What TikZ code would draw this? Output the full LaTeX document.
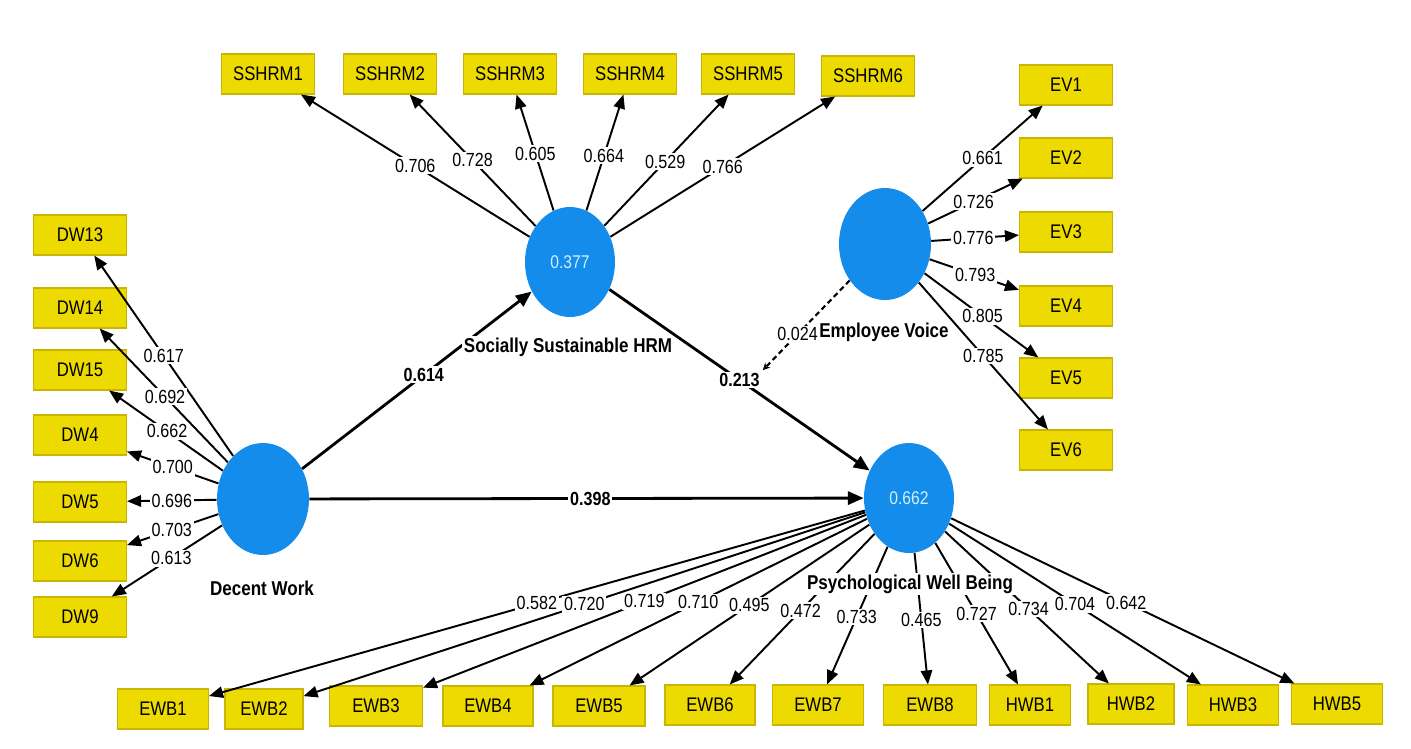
\documentclass[tikz,border=0pt]{standalone}
\usepackage{fontspec}
\setmainfont{Liberation Sans}[FakeStretch=0.85]
\usetikzlibrary{arrows.meta,shapes.geometric}
\definecolor{boxy}{RGB}{236,218,0}
\definecolor{boxb}{RGB}{200,182,0}
\definecolor{lvblue}{RGB}{20,140,236}
\definecolor{lvtxt}{RGB}{210,240,250}
\begin{document}
\begin{tikzpicture}[x=0.02cm,y=-0.02cm,
  ind/.style={draw=boxb,fill=boxy,line width=0.6pt,minimum width=1.86cm,minimum height=0.8cm,inner sep=0pt,font=\fontsize{11.2}{13}\selectfont},
  lvs/.style={ellipse,fill=lvblue,draw=none,minimum width=1.8cm,minimum height=2.2cm,inner sep=0pt,text=lvtxt,font=\fontsize{10.5}{12}\selectfont},
  load/.style={draw=black,line width=1.1pt,-{Triangle[length=8pt,width=6.5pt]}},
  strpath/.style={draw=black,line width=1.6pt,-{Triangle[length=9pt,width=7.5pt]}},
  lbl/.style={fill=white,inner sep=1pt,text=black,font=\fontsize{10.8}{12}\selectfont},
  blbl/.style={fill=white,inner sep=1pt,text=black,font=\bfseries\fontsize{10.8}{12}\selectfont},
  cname/.style={fill=white,inner sep=1pt,font=\bfseries\fontsize{11.4}{13}\selectfont},
]
\fill[white] (0,0) rectangle (1411,748);
\useasboundingbox (0,0) rectangle (1411,748);

% latent variables
\node[lvs] (S) at (570,262) {0.377};
\node[lvs,minimum width=1.84cm,minimum height=2.24cm] (E) at (885,244) {};
\node[lvs,minimum width=1.84cm,minimum height=2.24cm] (D) at (263,499) {};
\node[lvs] (P) at (909,498) {0.662};

% indicators: SSHRM
\node[ind] (s1) at (268,74) {SSHRM1};
\node[ind] (s2) at (390,74) {SSHRM2};
\node[ind] (s3) at (510,74) {SSHRM3};
\node[ind] (s4) at (630,74) {SSHRM4};
\node[ind] (s5) at (748,74) {SSHRM5};
\node[ind] (s6) at (868,76) {SSHRM6};
% EV
\node[ind] (e1) at (1066,85) {EV1};
\node[ind] (e2) at (1066,158) {EV2};
\node[ind] (e3) at (1066,232) {EV3};
\node[ind] (e4) at (1066,306) {EV4};
\node[ind] (e5) at (1066,378) {EV5};
\node[ind] (e6) at (1066,450) {EV6};
% DW
\node[ind] (d13) at (80,235) {DW13};
\node[ind] (d14) at (80,308) {DW14};
\node[ind] (d15) at (80,370) {DW15};
\node[ind] (d4) at (80,435) {DW4};
\node[ind] (d5) at (80,502) {DW5};
\node[ind] (d6) at (80,561) {DW6};
\node[ind] (d9) at (80,617) {DW9};
% PWB
\node[ind,minimum width=1.82cm] (w1) at (163,709) {EWB1};
\node[ind,minimum width=1.56cm] (w2) at (264,709) {EWB2};
\node[ind] (w3) at (376,706) {EWB3};
\node[ind,minimum width=1.8cm] (w4) at (488,706) {EWB4};
\node[ind,minimum width=1.84cm] (w5) at (599,706) {EWB5};
\node[ind,minimum width=1.8cm] (w6) at (710,705) {EWB6};
\node[ind,minimum width=1.82cm] (w7) at (818,705) {EWB7};
\node[ind] (w8) at (930,705) {EWB8};
\node[ind,minimum width=1.62cm] (h1) at (1030,705) {HWB1};
\node[ind,minimum width=1.72cm] (h2) at (1131,704) {HWB2};
\node[ind,minimum width=1.82cm] (h3) at (1233,705) {HWB3};
\node[ind,minimum width=1.82cm] (h5) at (1337,704) {HWB5};

% loadings SSHRM
\draw[load] (S) -- node[lbl] {0.706} (s1);
\draw[load] (S) -- node[lbl] {0.728} (s2);
\draw[load] (S) -- node[lbl,pos=0.49] {0.605} (s3);
\draw[load] (S) -- node[lbl,pos=0.47] {0.664} (s4);
\draw[load] (S) -- node[lbl,pos=0.49] {0.529} (s5);
\draw[load] (S) -- node[lbl] {0.766} (s6);
% loadings EV
\draw[load] (E) -- node[lbl] {0.661} (e1);
\draw[load] (E) -- node[lbl,pos=0.48] {0.726} (e2);
\draw[load] (E) -- node[lbl,pos=0.48] {0.776} (e3);
\draw[load] (E) -- node[lbl,pos=0.51] {0.793} (e4);
\draw[load] (E) -- node[lbl,pos=0.51] {0.805} (e5);
\draw[load] (E) -- node[lbl] {0.785} (e6);
% loadings DW
\draw[load] (D) -- node[lbl] {0.617} (d13);
\draw[load] (D) -- node[lbl,pos=0.49] {0.692} (d14);
\draw[load] (D) -- node[lbl,pos=0.49] {0.662} (d15);
\draw[load] (D) -- node[lbl] {0.700} (d4);
\draw[load] (D) -- node[lbl] {0.696} (d5);
\draw[load] (D) -- node[lbl,pos=0.51] {0.703} (d6);
\draw[load] (D) -- node[lbl,pos=0.46] {0.613} (d9);
% loadings PWB
\draw[load] (P) -- node[lbl] {0.582} (w1);
\draw[load] (P) -- node[lbl] {0.720} (w2);
\draw[load] (P) -- node[lbl] {0.719} (w3);
\draw[load] (P) -- node[lbl] {0.710} (w4);
\draw[load] (P) -- node[lbl] {0.495} (w5);
\draw[load] (P) -- node[lbl,pos=0.51] {0.472} (w6);
\draw[load] (P) -- node[lbl,pos=0.51] {0.733} (w7);
\draw[load] (P) -- node[lbl,pos=0.51] {0.465} (w8);
\draw[load] (P) -- node[lbl] {0.727} (h1);
\draw[load] (P) -- node[lbl,pos=0.51] {0.734} (h2);
\draw[load] (P) -- node[lbl] {0.704} (h3);
\draw[load] (P) -- node[lbl,pos=0.51] {0.642} (h5);

% structural paths
\draw[strpath] (D) -- node[blbl,pos=0.53] {0.614} (S);
\draw[strpath] (D) -- node[blbl,pos=0.507] {0.398} (P);
\draw[strpath] (S) -- node[blbl,pos=0.5] (m) {0.213} (P);
\draw[line width=1.2pt,dash pattern=on 3pt off 2pt,-{Stealth[length=4pt,width=4pt]}] (E) -- node[lbl,pos=0.6] {0.024} (m.north east);

% construct names
\node[cname] (Sn) at (568,347) {Socially Sustainable HRM};
\node[cname] (En) at (884,332) {Employee Voice};
\node[cname] (Dn) at (262,588) {Decent Work};
\node[cname] (Pn) at (910,584) {Psychological Well Being};
\end{tikzpicture}
\end{document}
